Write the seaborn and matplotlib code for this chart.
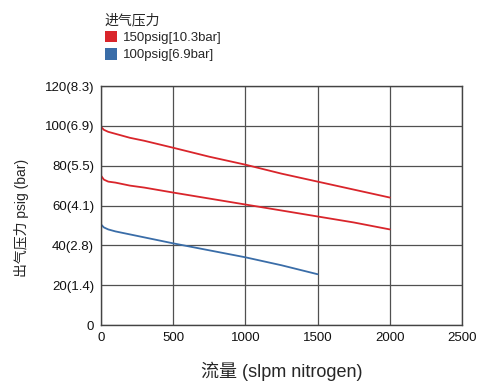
import matplotlib
matplotlib.use('Agg')
import matplotlib.pyplot as plt
from matplotlib.patches import Patch
import pandas as pd
import seaborn as sns

# flow (slpm) vs outlet pressure (psig)
flow_150 = [0, 20, 50, 100, 200, 300, 500, 750, 1000, 1250, 1500, 1750, 2000]
p_150_high = [99.5, 98, 97, 96, 94, 92.5, 89, 84.5, 80.5, 76, 72, 68, 64]
p_150_low = [75, 73, 72, 71.5, 70, 69, 66.5, 63.5, 60.5, 57.5, 54.5, 51.5, 48]
flow_100 = [0, 20, 50, 100, 200, 300, 500, 750, 1000, 1250, 1500]
p_100 = [50.5, 49, 48, 47, 45.5, 44, 41, 37.5, 34, 30, 25.5]

y_ticks = [0, 20, 40, 60, 80, 100, 120]
y_labels = ['0', '20(1.4)', '40(2.8)', '60(4.1)', '80(5.5)', '100(6.9)', '120(8.3)']
x_ticks = [0, 500, 1000, 1500, 2000, 2500]
legend_labels = ['150psig[10.3bar]', '100psig[6.9bar]']
red = '#d9252b'
blue = '#3a6da8'

sns.set_style('white')
plt.rcParams['font.family'] = ['Liberation Sans', 'Noto Sans CJK SC', 'DejaVu Sans']

fig = plt.figure(figsize=(4.78, 3.85), dpi=100)
ax = fig.add_axes([0.2113, 0.1558, 0.7552, 0.6208])

df_hi = pd.DataFrame({'flow': flow_150, 'p': p_150_high})
df_lo = pd.DataFrame({'flow': flow_150, 'p': p_150_low})
df_b = pd.DataFrame({'flow': flow_100, 'p': p_100})
sns.lineplot(data=df_hi, x='flow', y='p', color=red, lw=1.3, ax=ax, legend=False)
sns.lineplot(data=df_lo, x='flow', y='p', color=red, lw=1.3, ax=ax, legend=False)
sns.lineplot(data=df_b, x='flow', y='p', color=blue, lw=1.3, ax=ax, legend=False)

ax.set_xlim(0, 2500)
ax.set_ylim(0, 120)
ax.set_xticks(x_ticks)
ax.set_yticks(y_ticks)
ax.set_yticklabels(y_labels)
ax.grid(True, color='#505050', lw=0.9)
ax.set_axisbelow(True)
for s in ax.spines.values():
    s.set_color('#444444')
    s.set_linewidth(1.0)
ax.tick_params(length=0, labelsize=9.5, pad=5, colors='#111111')

ax.set_xlabel('流量 (slpm nitrogen)', fontsize=13, labelpad=13)
ax.set_ylabel('出气压力 psig (bar)', fontsize=10)
ax.yaxis.set_label_coords(-0.2, 0.45)

handles = [Patch(facecolor=red, edgecolor='none'), Patch(facecolor=blue, edgecolor='none')]
leg = fig.legend(handles, legend_labels, title='进气压力', loc='upper left',
                 bbox_to_anchor=(0.2, 0.99), frameon=False, fontsize=9.5,
                 title_fontsize=10, handlelength=0.95, handleheight=0.95,
                 handletextpad=0.45, labelspacing=0.3, borderpad=0.2)
leg._legend_box.align = 'left'

fig.savefig('out.png', dpi=100)
